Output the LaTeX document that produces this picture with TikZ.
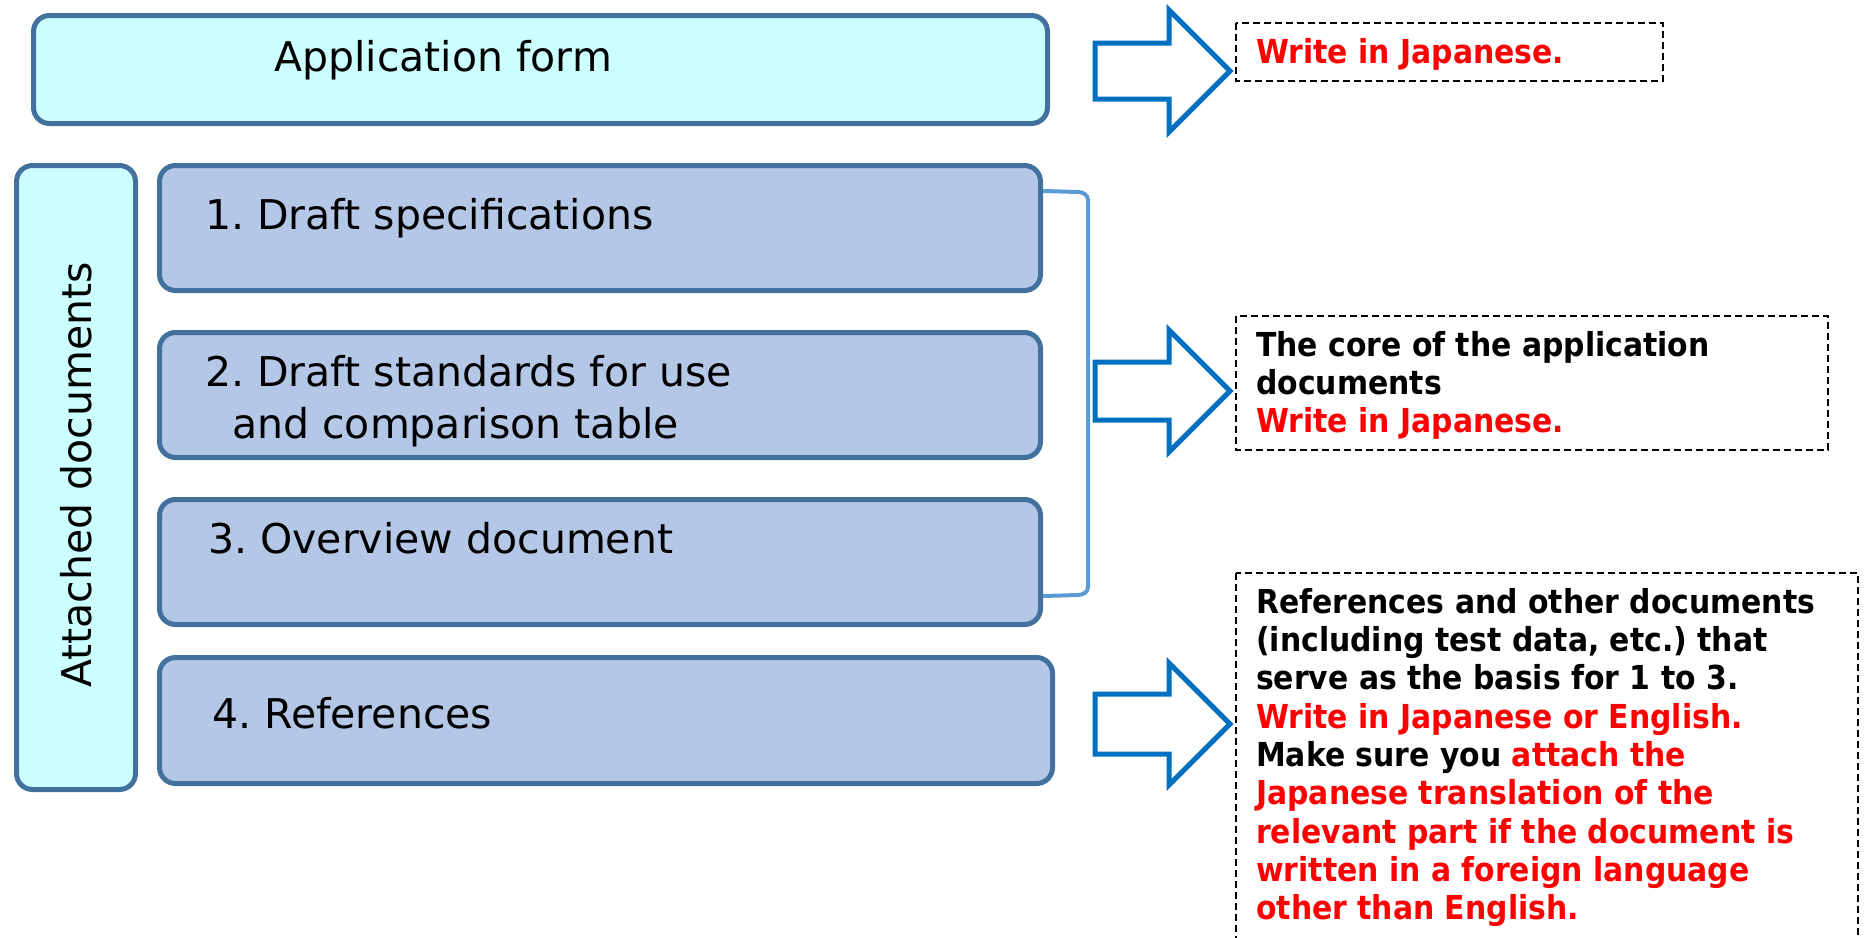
\documentclass[tikz,border=0pt]{standalone}
\usepackage{fontspec}
\setmainfont{DejaVu Sans}
\newfontfamily\notefont{DejaVu Sans}[FakeStretch=0.905]
\frenchspacing
\definecolor{boxline}{HTML}{41719C}
\definecolor{cyanfill}{HTML}{CCFFFF}
\definecolor{docfill}{HTML}{B4C7E7}
\definecolor{arrowblue}{HTML}{0070C0}
\definecolor{bracketblue}{HTML}{5B9BD5}
\definecolor{notered}{HTML}{FF0000}
\tikzset{
  docbox/.style={draw=boxline, line width=5pt, rounded corners=16pt,
    rectangle, anchor=north west, inner sep=0pt},
  boxtext/.style={anchor=base west, inner sep=0pt,
    font=\fontsize{41}{49}\selectfont},
  notebox/.style={draw=black, line width=1.8pt, dash pattern=on 7pt off 4pt},
  notetext/.style={anchor=base west, inner sep=0pt,
    font=\notefont\bfseries\fontsize{33}{38}\selectfont},
  red/.style={text=notered},
  blockarrow/.style={draw=arrowblue, fill=white, line width=5pt, line join=miter},
  bracket/.style={draw=bracketblue, line width=4pt}
}
% block arrow: #1 = vertical centre of the arrow, #2 = half shaft height
\newcommand{\blockarrow}[2]{%
  \draw[blockarrow] (1095,#1-#2) -- (1169,#1-#2) -- (1169,#1-61) -- (1230,#1)
    -- (1169,#1+61) -- (1169,#1+#2) -- (1095,#1+#2) -- cycle;}
\begin{document}
\begin{tikzpicture}[x=1pt,y=-1pt]
\useasboundingbox (0,0) rectangle (1867,937);
\clip (0,0) rectangle (1867,937);

% application form
\node[docbox, fill=cyanfill, minimum width=1014pt, minimum height=108pt] (app) at (31,13) {};
\node[boxtext] (apptext) at (274,71) {Application form};

% attached documents
\node[docbox, fill=cyanfill, minimum width=119pt, minimum height=624pt] (att) at (14,163) {};
\node[font=\fontsize{41}{49}\selectfont, rotate=90, inner sep=0pt] (atttext) at (76,475) {Attached documents};

\node[docbox, fill=docfill, minimum width=881pt, minimum height=125pt] (b1) at (157,163) {};
\node[docbox, fill=docfill, minimum width=881pt, minimum height=125pt] (b2) at (157,330) {};
\node[docbox, fill=docfill, minimum width=881pt, minimum height=125pt] (b3) at (157,497) {};
\node[docbox, fill=docfill, minimum width=893pt, minimum height=126pt] (b4) at (157,655) {};

\node[boxtext] (t1) at (205,229) {1. Draft specifications};
\node[boxtext] (t2a) at (205,386) {2. Draft standards for use};
\node[boxtext] (t2b) at (232,438) {and comparison table};
\node[boxtext] (t3) at (208,553) {3. Overview document};
\node[boxtext] (t4) at (212,728) {4. References};

% bracket joining items 1 to 3
\coordinate (brtop) at (1043,191);
\coordinate (brbot) at (1043,596);
\draw[bracket] (brtop) -- (1078,192) to[out=0,in=90] (1088,200) -- (1088,587)
  to[out=-90,in=0] (1078,595) -- (brbot);

% block arrows
\blockarrow{71}{28}
\blockarrow{391}{29}
\blockarrow{724}{30}

% notes
\draw[notebox] (1236,23) rectangle (1663,81);
\node[notetext, red] (n1) at (1256,63) {Write in Japanese.};

\draw[notebox] (1236,316) rectangle (1828,450);
\node[notetext] (n2a) at (1256,356) {The core of the application};
\node[notetext] (n2b) at (1256,394) {documents};
\node[notetext, red] (n2c) at (1256,432) {Write in Japanese.};

\draw[notebox] (1236,573) rectangle (1858,960);
\node[notetext] (n3a) at (1256,613) {References and other documents};
\node[notetext] (n3b) at (1256,651) {(including test data, etc.) that};
\node[notetext] (n3c) at (1256,689) {serve as the basis for 1 to 3.};
\node[notetext, red] (n3d) at (1256,728) {Write in Japanese or English.};
\node[notetext] (n3e) at (1256,766) {Make sure you \textcolor{notered}{attach the}};
\node[notetext, red] (n3f) at (1256,804) {Japanese translation of the};
\node[notetext, red] (n3g) at (1256,843) {relevant part if the document is};
\node[notetext, red] (n3h) at (1256,881) {written in a foreign language};
\node[notetext, red] (n3i) at (1256,919) {other than English.};
\end{tikzpicture}
\end{document}
